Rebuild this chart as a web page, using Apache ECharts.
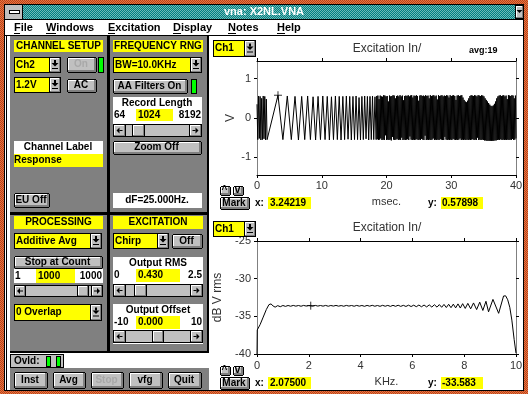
<!DOCTYPE html>
<html>
<head>
<meta charset="utf-8">
<script src="https://cdn.jsdelivr.net/npm/echarts@6/dist/echarts.min.js"></script>
<style>
  html, body { margin: 0; padding: 0; background: #fff; }
  #c { width: 528px; height: 394px; }
</style>
</head>
<body>
<div id="c"></div>
<script>
// ---------- recorded data ----------
// time record, Ch1 (V vs msec): turning points of the slow part of the sweep
const sweepTimes = [0.00,0.12,0.24,0.36,0.48,0.60,0.72,0.84,0.96,1.08,1.20,1.32,1.44,1.56,1.80,
  3.24219,4.00,4.68,5.30,5.87,6.40,6.90,7.37,7.82,8.25,8.66,9.05,9.43,9.80,10.16,
  10.51,10.85,11.18,11.50,11.81,12.11,12.41,12.70,12.98,13.26,13.53,13.80,14.06,14.32,14.57,
  14.82,15.06,15.30,15.53,15.76,15.98,16.20,16.42,16.63,16.84,17.05,17.25,17.45,17.65,17.84,
  18.03,18.22];
const sweepVolts = [0.35,-0.55,0.56,-0.52,0.55,-0.56,0.50,-0.55,0.56,-0.53,0.55,-0.56,0.48,-0.55,-0.57,
  0.57898,-0.55,0.56,-0.55,0.55,-0.56,0.55,-0.55,0.56,-0.55,0.54,-0.56,0.55,-0.55,0.56,
  -0.55,0.55,-0.56,0.54,-0.55,0.56,-0.55,0.55,-0.56,0.55,-0.55,0.56,-0.54,0.55,-0.56,
  0.55,-0.55,0.56,-0.55,0.52,-0.56,0.55,-0.55,0.56,-0.53,0.55,-0.56,0.55,-0.55,0.56,
  -0.55,0.54];
// fast part of the sweep, one value per sample from 18.40 ms to 40 ms
const denseStart = 18.40;
const denseStep = 0.09;
const denseVolts = [
  -0.55,0.56,-0.54,0.57,-0.56,0.48,-0.55,0.57,-0.52,0.55,
  -0.56,0.54,-0.55,0.58,-0.56,0.57,-0.44,0.55,-0.56,0.56,
  -0.55,0.42,-0.56,0.57,-0.55,0.55,-0.57,0.56,-0.48,0.58,
  -0.55,0.57,-0.56,0.50,-0.55,0.56,-0.53,0.57,-0.56,0.55,
  -0.55,0.58,-0.56,0.55,-0.50,0.57,-0.56,0.45,-0.55,0.56,
  -0.56,0.57,-0.55,0.56,-0.54,0.58,-0.56,0.55,-0.47,0.57,
  -0.55,0.58,-0.56,0.52,-0.55,0.57,-0.56,0.56,-0.55,0.58,
  -0.54,0.56,-0.56,0.44,-0.55,0.57,-0.56,0.58,-0.53,0.56,
  -0.55,0.57,-0.56,0.55,-0.45,0.58,-0.56,0.56,-0.55,0.57,
  -0.56,0.50,-0.55,0.58,-0.56,0.56,-0.55,0.57,-0.52,0.58,
  -0.56,0.55,-0.55,0.57,-0.56,0.47,-0.55,0.58,-0.56,0.56,
  -0.54,0.57,-0.55,0.58,-0.56,0.55,-0.56,0.57,-0.48,0.56,
  -0.55,0.58,-0.56,0.57,-0.55,0.52,-0.56,0.58,-0.55,0.56,
  -0.56,0.57,-0.53,0.58,-0.55,0.56,-0.56,0.46,-0.55,0.57,
  -0.56,0.58,-0.55,0.56,-0.52,0.57,-0.56,0.58,-0.55,0.52,
  -0.56,0.46,-0.55,0.42,-0.56,0.40,-0.55,0.44,-0.56,0.50,
  -0.55,0.56,-0.56,0.58,-0.55,0.57,-0.54,0.56,-0.56,0.58,
  -0.55,0.57,-0.56,0.55,-0.50,0.58,-0.56,0.57,-0.55,0.56,
  -0.56,0.58,-0.55,0.57,-0.56,0.55,-0.57,0.50,-0.57,0.46,
  -0.58,0.42,-0.58,0.38,-0.58,0.34,-0.58,0.31,-0.58,0.30,
  -0.58,0.32,-0.58,0.36,-0.57,0.42,-0.57,0.50,-0.56,0.55,
  -0.55,0.57,-0.56,0.58,-0.54,0.56,-0.56,0.57,-0.55,0.58,
  -0.56,0.55,-0.55,0.57,-0.56,0.48,-0.55,0.58,-0.56,0.57,
  -0.55,0.56,-0.56,0.58,-0.53,0.57,-0.56,0.50,-0.55,0.57,
  -0.52];

// spectrum, Ch1 (dB V rms vs KHz)
const specKHz = [0.00,0.01,0.12,0.24,0.36,0.46,0.54,0.62,0.70,0.80,0.90,1.00,1.10,1.20,1.30,1.40,1.50,1.60,1.70,1.80,1.90,2.00,
  2.075,2.15,2.25,2.35,2.45,2.55,2.65,2.75,2.85,2.95,3.05,3.15,3.25,3.35,3.45,3.55,3.65,3.75,3.85,3.95,
  4.05,4.15,4.25,4.35,4.45,4.55,4.65,4.75,4.85,4.95,5.05,5.15,5.25,5.35,5.45,5.55,5.65,5.75,5.85,5.95,
  6.05,6.15,6.25,6.35,6.45,6.55,6.65,6.75,6.85,6.95,7.04,7.13,7.22,7.31,7.40,7.49,7.58,7.67,7.76,7.85,7.94,
  8.04,8.14,8.25,8.36,8.48,8.60,8.72,8.84,8.94,9.11,9.33,9.52,9.60,9.68,9.76,9.84,9.93,10.00];
const specDb = [-40.0,-36.8,-36.1,-35.1,-34.1,-33.45,-33.35,-33.62,-33.78,-33.58,-33.72,-33.56,-33.68,-33.56,-33.66,-33.55,-33.65,-33.56,-33.66,-33.55,-33.64,-33.56,
  -33.583,-33.65,-33.55,-33.64,-33.56,-33.65,-33.55,-33.66,-33.56,-33.64,-33.55,-33.65,-33.57,-33.66,-33.55,-33.64,-33.56,-33.66,-33.55,-33.65,
  -33.56,-33.67,-33.55,-33.65,-33.54,-33.66,-33.56,-33.67,-33.54,-33.66,-33.55,-33.68,-33.54,-33.67,-33.53,-33.68,-33.54,-33.69,-33.52,-33.70,
  -33.52,-33.72,-33.50,-33.73,-33.50,-33.75,-33.48,-33.77,-33.46,-33.78,-33.44,-33.80,-33.42,-33.83,-33.40,-33.85,-33.38,-33.88,-33.35,-33.90,-33.32,
  -33.95,-33.28,-34.00,-33.22,-34.10,-33.12,-34.22,-33.00,-34.40,-32.75,-34.60,-32.30,-32.28,-32.80,-33.80,-35.50,-38.10,-39.90];

// cursor readouts
const markTime = 3.24219, markVolt = 0.57898;
const markKHz = 2.075, markDb = -33.583;
const avgCount = 19;

// tick values
const voltTicks = [-1, 0, 1];

// window text
const menuItems = ['File', 'Windows', 'Excitation', 'Display', 'Notes', 'Help'];
const menuLeft = [14, 46, 108, 173, 228, 277];
const menuKeyWidth = [6, 10, 7, 8, 8, 8];

// ---------- drawing helpers for the window chrome ----------
const UI = 'bold 10px "Liberation Sans", Arial, sans-serif';
const MENU = 'bold 11px "Liberation Sans", Arial, sans-serif';
const PLOT = '"Liberation Sans", Arial, sans-serif';
const chrome = [];
let order = 0;
let layerZ = 10;

function pattern(a, b) {
  const cv = document.createElement('canvas');
  cv.width = 2; cv.height = 2;
  const g = cv.getContext('2d');
  g.fillStyle = a; g.fillRect(0, 0, 2, 2);
  g.fillStyle = b; g.fillRect(0, 0, 1, 1); g.fillRect(1, 1, 1, 1);
  return { image: cv, repeat: 'repeat' };
}
function rect(x, y, w, h, fill) {
  chrome.push({ type: 'rect', silent: true, z: layerZ, z2: order++, shape: { x, y, width: w, height: h }, style: { fill } });
}
function poly(points, fill) {
  chrome.push({ type: 'polygon', silent: true, z: layerZ, z2: order++, shape: { points }, style: { fill } });
}
function txt(x, y, text, opt) {
  opt = opt || {};
  const align = opt.align || 'left';
  chrome.push({ type: 'text', silent: true, z: layerZ, z2: order++, x, y, scaleX: opt.sx || 1,
    style: { text, font: opt.font || UI, fill: opt.color || '#000',
      align, textAlign: align, verticalAlign: 'middle', textVerticalAlign: 'middle' } });
}
function bevel(x, y, w, h) {
  rect(x, y, w, h, '#000');
  rect(x + 1, y + 1, w - 2, h - 2, '#c0c0c0');
  rect(x + 1, y + 1, w - 3, 1, '#fff');
  rect(x + 1, y + 1, 1, h - 3, '#fff');
  rect(x + 1, y + h - 2, w - 2, 1, '#808080');
  rect(x + w - 2, y + 1, 1, h - 2, '#808080');
}
function button(x, y, w, h, label, disabled) {
  rect(x + 1, y, w - 2, h, '#000');
  rect(x, y + 1, w, h - 2, '#000');
  rect(x + 1, y + 1, w - 2, h - 2, '#c0c0c0');
  rect(x + 1, y + 1, w - 3, 1, '#fff');
  rect(x + 1, y + 1, 1, h - 3, '#fff');
  rect(x + 1, y + h - 3, w - 2, 2, '#808080');
  rect(x + w - 3, y + 1, 2, h - 2, '#808080');
  txt(x + w / 2 - 1, y + h / 2 - 0.5, label, { align: 'center', color: disabled ? '#a8a8a8' : '#000' });
}
function downGlyph(cx, cy) {
  rect(cx - 1, cy - 5, 2, 3, '#000');
  poly([[cx - 3.5, cy - 2], [cx + 3.5, cy - 2], [cx, cy + 1.5]], '#000');
  rect(cx - 3, cy + 3, 6, 1, '#000');
}
function dropdown(x, y, w, h, label) {
  const aw = 12;
  rect(x, y, w, h, '#000');
  rect(x + 1, y + 1, w - aw - 1, h - 2, '#ffff00');
  bevel(x + w - aw, y, aw, h);
  downGlyph(x + w - aw / 2, y + h / 2);
  txt(x + 2, y + h / 2, label);
}
function led(x, y, w, h) {
  rect(x, y, w, h, '#000');
  rect(x + 1, y + 1, w - 2, h - 2, '#00ff00');
}
function header(x, y, w, h, label) {
  rect(x, y, w, h, '#ffff00');
  txt(x + w / 2, y + h / 2, label, { align: 'center' });
}
function scrollbar(x, y, w, h, thumbX, thumbW) {
  rect(x, y, w, h, '#000');
  rect(x + 1, y + 1, w - 2, h - 2, '#c0c0c0');
  bevel(x, y, h, h);
  bevel(x + w - h, y, h, h);
  const cy = y + h / 2;
  let cx = x + h / 2;
  poly([[cx - 3, cy], [cx, cy - 3], [cx, cy + 3]], '#000');
  rect(cx, cy - 0.5, 3, 1, '#000');
  cx = x + w - h / 2;
  poly([[cx + 3, cy], [cx, cy - 3], [cx, cy + 3]], '#000');
  rect(cx - 3, cy - 0.5, 3, 1, '#000');
  bevel(thumbX, y, thumbW, h);
}
function rangeRow(x, y, w, h, lo, val, hi, boxX, boxW) {
  rect(x, y, w, h, '#fff');
  rect(boxX, y, boxW, h, '#ffff00');
  txt(x + 1, y + h / 2, lo);
  txt(boxX + 2, y + h / 2, val);
  txt(x + w - 1, y + h / 2, hi, { align: 'right' });
}
function readout(y, xVal, yVal) {
  button(220, y, 11, 10, '^');
  button(233, y, 11, 10, 'v');
  button(220, y + 11, 30, 13, 'Mark');
  txt(255, y + 17, 'x:');
  rect(268, y + 11, 43, 12, '#ffff00');
  txt(270, y + 17, xVal);
  txt(428, y + 17, 'y:');
  rect(441, y + 11, 42, 12, '#ffff00');
  txt(442, y + 17, yVal);
}

// ---------- window frame (kept underneath the plots) ----------
layerZ = -10;
rect(0, 0, 528, 394, pattern('#e8783c', '#b84020'));
rect(4, 4, 520, 387, '#000');
rect(5, 36, 518, 354, '#fff');
layerZ = 10;
rect(5, 5, 518, 14, pattern('#008080', '#70b8b8'));
rect(5, 19, 518, 1, '#000');
rect(5, 20, 518, 15, '#fff');
rect(5, 35, 518, 1, '#000');
rect(6, 36, 1, 354, '#000');
// system menu box and minimise button
rect(5, 5, 17, 14, '#c0c0c0');
rect(22, 5, 1, 14, '#000');
rect(9, 10, 11, 4, '#000');
rect(10, 11, 9, 2, '#fff');
bevel(515, 5, 9, 14);
poly([[516.5, 10], [522.5, 10], [519.5, 13]], '#000');
txt(264, 12, 'vna: X2NL.VNA', { align: 'center', color: '#fff', font: MENU });

// menu bar
menuItems.forEach((m, i) => {
  txt(menuLeft[i], 28, m, { font: MENU });
  rect(menuLeft[i], 33, menuKeyWidth[i], 1, '#000');
});

// ---------- control panels ----------
rect(10, 36, 199, 316, '#808080');
rect(107, 36, 3, 316, '#000');
rect(207, 36, 2, 316, '#000');
rect(10, 212, 199, 3, '#000');
rect(10, 351, 199, 2, '#000');

// channel setup
header(14, 40, 89, 12, 'CHANNEL SETUP');
dropdown(14, 57, 47, 16, 'Ch2');
button(67, 57, 30, 16, 'On', true);
led(98, 57, 6, 16);
dropdown(14, 77, 47, 16, '1.2V');
button(67, 79, 30, 14, 'AC');
rect(14, 141, 89, 26, '#fff');
txt(58, 147.5, 'Channel Label', { align: 'center' });
rect(14, 154, 89, 13, '#ffff00');
txt(14, 160.5, 'Response');
button(14, 193, 36, 15, 'EU Off');

// frequency range
header(113, 40, 90, 12, 'FREQUENCY RNG');
dropdown(113, 57, 89, 16, 'BW=10.0KHz');
button(113, 79, 75, 15, 'AA Filters On');
led(191, 79, 6, 15);
rect(113, 97, 89, 40, '#fff');
txt(157, 103.5, 'Record Length', { align: 'center' });
rangeRow(113, 109, 89, 12, '64', '1024', '8192', 136, 37);
scrollbar(113, 124, 89, 13, 132, 13);
button(113, 141, 89, 14, 'Zoom Off');
rect(113, 193, 89, 15, '#fff');
txt(157, 200.5, 'dF=25.000Hz.', { align: 'center' });

// processing
header(14, 216, 89, 13, 'PROCESSING');
dropdown(14, 233, 88, 16, 'Additive Avg');
button(14, 256, 89, 13, 'Stop at Count');
rangeRow(14, 269, 89, 14, '1', '1000', '1000', 36, 39);
scrollbar(14, 285, 89, 12, 77, 12);
dropdown(14, 304, 88, 17, '0 Overlap');

// excitation
header(113, 216, 90, 13, 'EXCITATION');
dropdown(113, 233, 56, 16, 'Chirp');
button(172, 234, 31, 15, 'Off');
rect(113, 257, 90, 40, '#fff');
txt(158, 263.5, 'Output RMS', { align: 'center' });
rangeRow(113, 269, 90, 13, '0', '0.430', '2.5', 136, 44);
scrollbar(113, 284, 90, 13, 134, 13);
rect(113, 304, 90, 40, '#fff');
txt(158, 310.5, 'Output Offset', { align: 'center' });
rangeRow(113, 316, 90, 13, '-10', '0.000', '10', 136, 44);
scrollbar(113, 330, 90, 13, 152, 12);

// overload and command buttons
rect(10, 354, 54, 14, '#000');
rect(11, 355, 52, 12, '#c0c0c0');
txt(14, 361, 'Ovld:');
led(46, 356, 5, 11);
led(56, 356, 5, 11);
rect(10, 368, 199, 22, '#808080');
button(14, 372, 34, 17, 'Inst');
button(53, 372, 33, 17, 'Avg');
button(91, 372, 33, 17, 'Stop', true);
button(129, 372, 34, 17, 'vfg');
button(168, 372, 34, 17, 'Quit');

// ---------- plot panes: selectors, titles, cursor readouts ----------
dropdown(213, 40, 43, 17, 'Ch1');
dropdown(213, 221, 43, 16, 'Ch1');
txt(387, 49, 'Excitation In/', { align: 'center', font: '12px ' + PLOT, color: '#333' });
txt(387, 228, 'Excitation In/', { align: 'center', font: '12px ' + PLOT, color: '#333' });
txt(469, 51, 'avg:' + avgCount, { font: 'bold 9px ' + PLOT });
readout(186, markTime.toFixed(5), markVolt.toFixed(5));
readout(366, markKHz.toFixed(5), markDb.toFixed(3));

// ---------- series data ----------
const timeData = sweepTimes.map((t, i) => [t, sweepVolts[i]])
  .concat(denseVolts.map((v, i) => [+(denseStart + i * denseStep).toFixed(2), v]));
const specData = specKHz.map((f, i) => [f, specDb[i]]);

const plusSymbol = 'path://M0,4L8,4M4,0L4,8';
const tickFont = { color: '#333', fontSize: 11, fontFamily: PLOT };

function frameAxis(extra) {
  return Object.assign({
    type: 'value',
    splitLine: { show: false },
    axisLine: { onZero: false, lineStyle: { color: '#000', width: 1 } },
    axisTick: { length: 3, lineStyle: { color: '#000' } },
    axisLabel: { show: false }
  }, extra);
}

const option = {
  animation: false,
  backgroundColor: '#fff',
  graphic: { elements: chrome },
  grid: [
    { left: 257, top: 61, width: 259, height: 114 },
    { left: 257, top: 241, width: 259, height: 113 }
  ],
  xAxis: [
    frameAxis({ gridIndex: 0, position: 'bottom', min: 0, max: 40, interval: 10,
      axisLabel: Object.assign({ margin: 5 }, tickFont),
      name: 'msec.', nameLocation: 'middle', nameGap: 21, nameTextStyle: tickFont }),
    frameAxis({ gridIndex: 0, position: 'top', min: 0, max: 40, interval: 10 }),
    frameAxis({ gridIndex: 1, position: 'bottom', min: 0, max: 10, interval: 2,
      axisLabel: Object.assign({ margin: 6 }, tickFont),
      name: 'KHz.', nameLocation: 'middle', nameGap: 22, nameTextStyle: tickFont }),
    frameAxis({ gridIndex: 1, position: 'top', min: 0, max: 10, interval: 2 })
  ],
  yAxis: [
    frameAxis({ gridIndex: 0, position: 'left', min: -1.45, max: 1.45,
      axisLine: { onZero: false, lineStyle: { color: '#808080' } },
      axisTick: { length: 3, customValues: voltTicks, lineStyle: { color: '#000' } },
      axisLabel: Object.assign({ margin: 6, customValues: voltTicks }, tickFont),
      name: 'V', nameLocation: 'middle', nameGap: 20, nameRotate: 90,
      nameTextStyle: Object.assign({}, tickFont, { fontSize: 12 }) }),
    frameAxis({ gridIndex: 0, position: 'right', min: -1.45, max: 1.45,
      axisLine: { onZero: false, lineStyle: { color: '#808080' } },
      axisTick: { length: 3, customValues: voltTicks, lineStyle: { color: '#000' } } }),
    frameAxis({ gridIndex: 1, position: 'left', min: -40, max: -25, interval: 5,
      axisLine: { onZero: false, lineStyle: { color: '#808080' } },
      axisLabel: Object.assign({ margin: 6 }, tickFont),
      name: 'dB V rms', nameLocation: 'middle', nameGap: 33, nameRotate: 90,
      nameTextStyle: Object.assign({}, tickFont, { fontSize: 12 }) }),
    frameAxis({ gridIndex: 1, position: 'right', min: -40, max: -25, interval: 5,
      axisLine: { onZero: false, lineStyle: { color: '#808080' } } })
  ],
  series: [
    { type: 'line', xAxisIndex: 0, yAxisIndex: 0, data: timeData, showSymbol: false, symbol: 'none',
      lineStyle: { color: '#000', width: 1 }, silent: true },
    { type: 'scatter', xAxisIndex: 0, yAxisIndex: 0, data: [[markTime, markVolt]], symbol: plusSymbol, symbolSize: 8,
      itemStyle: { color: 'rgba(0,0,0,0)', borderColor: '#000', borderWidth: 1 }, silent: true },
    { type: 'line', xAxisIndex: 2, yAxisIndex: 2, data: specData, showSymbol: false, symbol: 'none',
      lineStyle: { color: '#000', width: 1 }, silent: true },
    { type: 'scatter', xAxisIndex: 2, yAxisIndex: 2, data: [[markKHz, markDb]], symbol: plusSymbol, symbolSize: 8,
      itemStyle: { color: 'rgba(0,0,0,0)', borderColor: '#000', borderWidth: 1 }, silent: true }
  ]
};

const chart = echarts.init(document.getElementById('c'), null, { renderer: 'canvas' });
chart.setOption(option);
</script>
</body>
</html>
